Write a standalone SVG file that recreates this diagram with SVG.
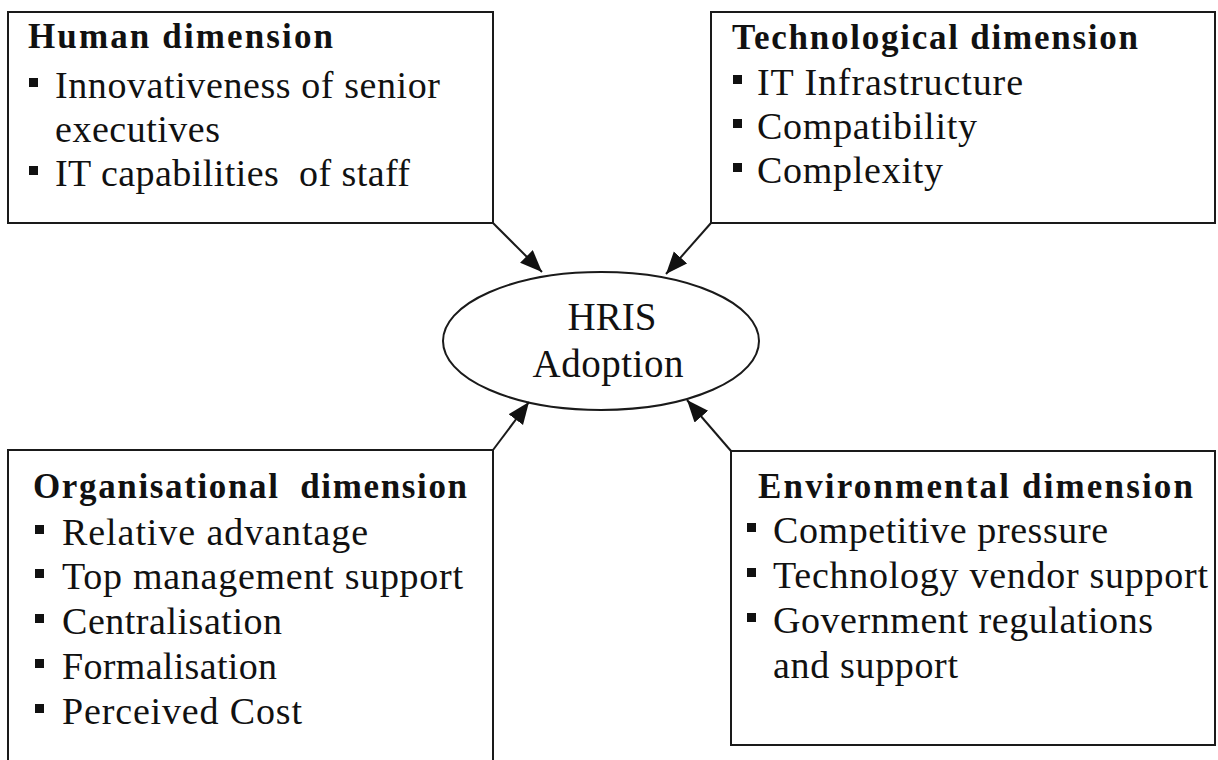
<svg xmlns="http://www.w3.org/2000/svg" width="1218" height="760" viewBox="0 0 1218 760">
  <style>
    .box { fill: #ffffff; stroke: #1a1a1a; stroke-width: 2; }
    .hdr { font-family: "Liberation Serif", "Times New Roman", serif; font-weight: bold; font-size: 35px; fill: #111111; }
    .item { font-family: "Liberation Serif", "Times New Roman", serif; font-size: 38px; fill: #111111; }
    .core { font-family: "Liberation Serif", "Times New Roman", serif; font-size: 39px; fill: #111111; text-anchor: middle; }
    .bullet { fill: #111111; }
    .link { stroke: #1a1a1a; stroke-width: 2; fill: none; marker-end: url(#arrow); }
  </style>
  <defs>
    <marker id="arrow" markerUnits="userSpaceOnUse" markerWidth="24" markerHeight="20" refX="22" refY="9" orient="auto">
      <path d="M0,0 L22,9 L0,18 z" fill="#111111"/>
    </marker>
  </defs>

  <rect width="1218" height="760" fill="#ffffff"/>

  <!-- Human dimension -->
  <g id="human">
    <rect class="box" x="8" y="12" width="485" height="211"/>
    <text class="hdr" x="28" y="48" textLength="305">Human dimension</text>
    <rect class="bullet" x="29" y="78" width="9" height="9"/>
    <text class="item" x="55" y="98" textLength="385">Innovativeness of senior</text>
    <text class="item" x="55" y="142" textLength="165">executives</text>
    <rect class="bullet" x="29" y="166" width="9" height="9"/>
    <text class="item" x="55" y="186" textLength="355" xml:space="preserve">IT capabilities  of staff</text>
  </g>

  <!-- Technological dimension -->
  <g id="technological">
    <rect class="box" x="711" y="12" width="504" height="211"/>
    <text class="hdr" x="732" y="49" textLength="406">Technological dimension</text>
    <rect class="bullet" x="733" y="75" width="9" height="9"/>
    <text class="item" x="757" y="95" textLength="266">IT Infrastructure</text>
    <rect class="bullet" x="733" y="119" width="9" height="9"/>
    <text class="item" x="757" y="139" textLength="220">Compatibility</text>
    <rect class="bullet" x="733" y="163" width="9" height="9"/>
    <text class="item" x="757" y="183" textLength="186">Complexity</text>
  </g>

  <!-- Central construct -->
  <g id="hris">
    <ellipse class="box" cx="601" cy="341" rx="158" ry="69"/>
    <text class="core" x="612" y="330">HRIS</text>
    <text class="core" x="608" y="377" textLength="151">Adoption</text>
  </g>

  <!-- Organisational dimension -->
  <g id="organisational">
    <rect class="box" x="8" y="450" width="485" height="330"/>
    <text class="hdr" x="33" y="498" textLength="434" xml:space="preserve">Organisational  dimension</text>
    <rect class="bullet" x="35" y="525" width="9" height="9"/>
    <text class="item" x="62" y="545" textLength="306">Relative advantage</text>
    <rect class="bullet" x="35" y="569" width="9" height="9"/>
    <text class="item" x="62" y="589" textLength="401">Top management support</text>
    <rect class="bullet" x="35" y="614" width="9" height="9"/>
    <text class="item" x="62" y="634" textLength="220">Centralisation</text>
    <rect class="bullet" x="35" y="659" width="9" height="9"/>
    <text class="item" x="62" y="679" textLength="215">Formalisation</text>
    <rect class="bullet" x="35" y="704" width="9" height="9"/>
    <text class="item" x="62" y="724" textLength="240">Perceived Cost</text>
  </g>

  <!-- Environmental dimension -->
  <g id="environmental">
    <rect class="box" x="731" y="451" width="484" height="294"/>
    <text class="hdr" x="758" y="498" textLength="435">Environmental dimension</text>
    <rect class="bullet" x="747" y="523" width="9" height="9"/>
    <text class="item" x="773" y="543" textLength="335">Competitive pressure</text>
    <rect class="bullet" x="747" y="568" width="9" height="9"/>
    <text class="item" x="773" y="588" textLength="435">Technology vendor support</text>
    <rect class="bullet" x="747" y="613" width="9" height="9"/>
    <text class="item" x="773" y="633" textLength="380">Government regulations</text>
    <text class="item" x="773" y="678" textLength="185">and support</text>
  </g>

  <!-- Connectors: each dimension points to the central construct -->
  <g id="connectors">
    <line class="link" x1="493" y1="223" x2="542" y2="272"/>
    <line class="link" x1="711" y1="223" x2="666" y2="274"/>
    <line class="link" x1="493" y1="450" x2="529" y2="402"/>
    <line class="link" x1="731" y1="451" x2="687" y2="400"/>
  </g>
</svg>
